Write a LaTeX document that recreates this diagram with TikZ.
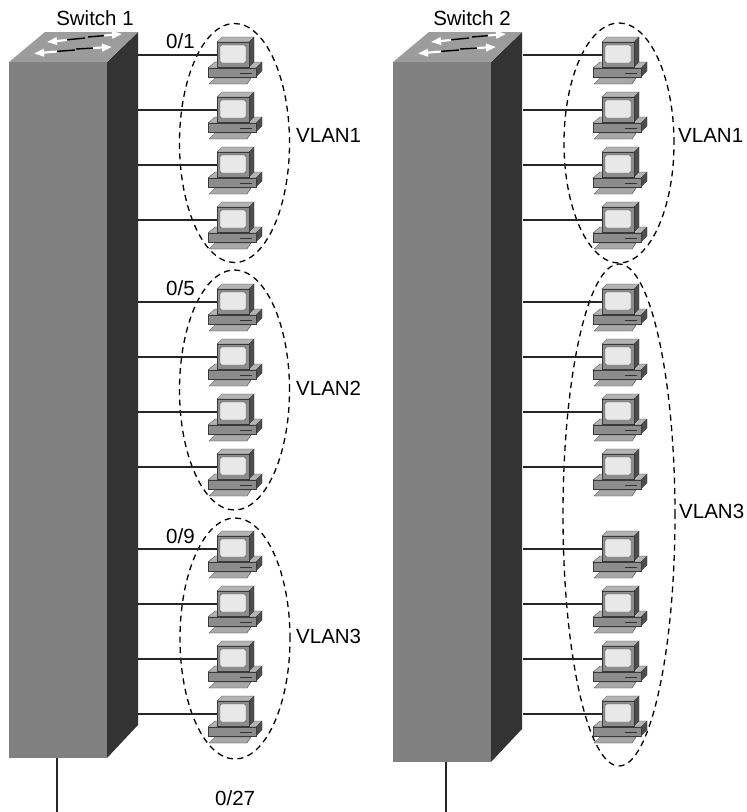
\documentclass[tikz,border=0pt]{standalone}
\usepackage{fontspec}
\setmainfont{Liberation Sans}
\usetikzlibrary{shapes.geometric,arrows.meta}

\definecolor{swfront}{HTML}{808080}
\definecolor{swside}{HTML}{333333}
\definecolor{swtop}{HTML}{9C9C9C}
\definecolor{pclight}{HTML}{B4B4B4}
\definecolor{pckey}{HTML}{A8A8A8}
\definecolor{pcmid}{HTML}{8C8C8C}
\definecolor{pcdark}{HTML}{4D4D4D}
\definecolor{pcscreen}{HTML}{E8E8E8}
\definecolor{pcedge}{HTML}{3A3A3A}

\tikzset{
  labeltext/.style={font=\fontsize{20.5}{24}\selectfont, inner sep=0pt, anchor=base west},
  vlanring/.style={ellipse, draw, dash pattern=on 6pt off 4.5pt, line width=1.3pt, inner sep=0pt},
  link/.style={line width=1.1pt, draw=black!85},
  pcpart/.style={draw=pcedge, line width=0.3pt},
  % traffic arrows on the switch top
  swtail/.style={line width=1.4pt, black},
  swhead/.style={line width=2.2pt, white, -{Triangle[length=10pt,width=7.5pt]}},
  % workstation icon, origin at the left edge of the monitor (cable height)
  pics/pcicon/.style={code={
    \filldraw[pcpart, fill=pckey] (-8,29) -- (30,29) -- (34,23) -- (-2,23) -- cycle;
    \filldraw[pcpart, fill=pclight] (-9,13) -- (39,13) -- (45,7) -- (-2,7) -- cycle;
    \filldraw[pcpart, fill=pcdark] (39,13) -- (45,7) -- (45,16) -- (39,22) -- cycle;
    \filldraw[pcpart, fill=pcmid] (-9,13) rectangle (39,22);
    \draw[line width=1pt, black!80] (23,18) -- (35,18);
    \filldraw[pcpart, fill=pclight] (0,-13) -- (32,-13) -- (37,-18) -- (5,-18) -- cycle;
    \filldraw[pcpart, fill=pcdark] (32,-13) -- (37,-18) -- (37,7) -- (32,12) -- cycle;
    \filldraw[pcpart, fill=pcmid] (0,-13) rectangle (32,12);
    \filldraw[draw=pcdark, line width=0.4pt, fill=pcscreen, rounded corners=2pt] (3,-10) rectangle (29,8);
    \coordinate (-in) at (0,0);
  }},
  % workgroup switch, origin at the back-left corner of the top face
  pics/switchbox/.style={code={
    \fill[swfront] (0,30) rectangle (98,#1);
    \fill[swside] (98,30) -- (129,0) -- (129,#1-33) -- (98,#1) -- cycle;
    \fill[swtop] (0,30) -- (98,30) -- (129,0) -- (36,0) -- cycle;
    \draw[swtail] (76,6) -- (56,8);
    \draw[swhead] (58,8) -- (38,10);
    \draw[swtail] (79,5) -- (97,3.5);
    \draw[swhead] (95,3.5) -- (113,2);
    \draw[swtail] (66,18) -- (46,19.5);
    \draw[swhead] (48,19.5) -- (25,21.5);
    \draw[swtail] (67,17) -- (86,16);
    \draw[swhead] (84,16) -- (103,15);
  }},
}

\begin{document}
\begin{tikzpicture}[x=1pt, y=-1pt]
\useasboundingbox (0,0) rectangle (747,812);

% ---- Switch 1 ----
\pic (sw1) at (9,32) {switchbox=726};
\node[labeltext, anchor=base] (sw1-name) at (95,25) {Switch 1};

\node[vlanring, minimum width=110pt, minimum height=239pt] (s1-v1) at (234.5,143) {};
\node[vlanring, minimum width=110pt, minimum height=240pt] (s1-v2) at (234.5,390) {};
\node[vlanring, minimum width=110pt, minimum height=241pt] (s1-v3) at (235,638.5) {};

\foreach \n/\y in {1/55,2/110,3/165,4/220,5/302,6/357,7/412,8/467,9/549,10/604,11/659,12/714}{
  \coordinate (s1-p\n) at (138,\y);
  \draw[link] (s1-p\n) -- (217,\y) coordinate (pc1-\n-cable);
  \pic (pc1-\n) at (pc1-\n-cable) {pcicon};
}

\node[labeltext] (s1-l1) at (166,48) {0/1};
\node[labeltext] (s1-l5) at (166,295) {0/5};
\node[labeltext] (s1-l9) at (166,543) {0/9};
\node[labeltext] (s1-n1) at (296,142) {VLAN1};
\node[labeltext] (s1-n2) at (296,395) {VLAN2};
\node[labeltext] (s1-n3) at (296,643) {VLAN3};

\coordinate (s1-up) at (57,758);
\coordinate (s1-end) at (57,812);
\draw[link] (s1-up) -- (s1-end);
\node[labeltext] (s1-l27) at (215,805) {0/27};

% ---- Switch 2 ----
\pic (sw2) at (393,32) {switchbox=730};
\node[labeltext, anchor=base] (sw2-name) at (472,25) {Switch 2};

\node[vlanring, minimum width=110pt, minimum height=240pt] (s2-v1) at (619,143) {};
\node[vlanring, minimum width=112pt, minimum height=502pt] (s2-v3) at (619,515) {};

\foreach \n/\y in {1/55,2/110,3/165,4/220,5/302,6/357,7/412,8/467,9/549,10/604,11/659,12/714}{
  \coordinate (s2-p\n) at (523,\y);
  \draw[link] (s2-p\n) -- (602,\y) coordinate (pc2-\n-cable);
  \pic (pc2-\n) at (pc2-\n-cable) {pcicon};
}

\node[labeltext] (s2-n1) at (678,142) {VLAN1};
\node[labeltext] (s2-n3) at (679,518) {VLAN3};

\coordinate (s2-up) at (446,762);
\coordinate (s2-end) at (446,812);
\draw[link] (s2-up) -- (s2-end);
\end{tikzpicture}
\end{document}
